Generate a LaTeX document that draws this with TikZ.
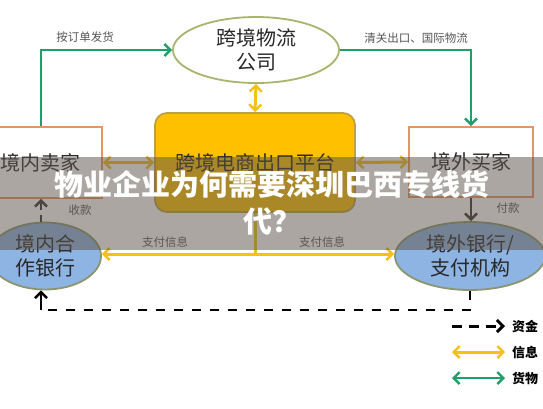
\documentclass[tikz,border=0pt]{standalone}
\usepackage{fontspec}
\setmainfont{Noto Sans CJK SC}
\usetikzlibrary{arrows.meta,shapes.geometric}
\definecolor{gcol}{RGB}{32,160,104}
\definecolor{ycol}{RGB}{246,192,24}
\definecolor{boxfill}{RGB}{255,192,0}
\definecolor{boxline}{RGB}{190,160,70}
\definecolor{obox}{RGB}{228,150,100}
\definecolor{oline}{RGB}{170,180,110}
\definecolor{bline}{RGB}{140,150,110}
\definecolor{bfill}{RGB}{141,180,226}
\definecolor{txt}{RGB}{40,40,40}
\definecolor{lbl}{RGB}{85,85,85}
\definecolor{veil}{RGB}{95,85,75}
\begin{document}
\begin{tikzpicture}[x=1pt,y=-1pt,
  maintext/.style={text=txt,font=\fontsize{20}{23.5}\selectfont,align=center,inner sep=0pt},
  sbox/.style={maintext,draw=obox,line width=1.8pt,fill=white},
  oval/.style={maintext,ellipse,line width=1.8pt},
  lab/.style={text=lbl,font=\fontsize{11.5}{13}\selectfont,inner sep=0pt},
  leg/.style={text=black,font=\fontsize{13}{15}\selectfont\bfseries,inner sep=0pt,anchor=west},
  barb/.tip={Straight Barb[length=6pt,width=12pt,line width=2.4pt]},
  garr/.style={draw=gcol,line width=2.6pt,-barb},
  gdbl/.style={draw=gcol,line width=2.6pt,barb-barb},
  yline/.style={draw=ycol,line width=3pt},
  yarr/.style={yline,-barb},
  ydbl/.style={yline,barb-barb},
  moneyline/.style={draw=black,line width=2.6pt,dash pattern=on 9pt off 9pt},
]
\useasboundingbox (0,0) rectangle (543,408);
\fill[white] (0,0) rectangle (543,408);
\clip (0,0) rectangle (543,408);

% nodes
\node[oval,draw=oline,fill=white,minimum width=166,minimum height=66] (wl) at (256,50) {跨境物流\\公司};
\node[sbox,minimum width=122,minimum height=71] (seller) at (41,162.5) {境内卖家};
\node[sbox,minimum width=124,minimum height=70] (buyer) at (471,162) {境外买家};
\node[maintext,draw=boxline,fill=boxfill,line width=1.8pt,rounded corners=12pt,minimum width=200,minimum height=99] (plat) at (255,162.5) {跨境电商出口平台};
\node[oval,draw=bline,fill=bfill,minimum width=112,minimum height=67] (lbank) at (45,256) {境内合\\作银行};
\node[oval,draw=bline,fill=bfill,minimum width=150,minimum height=68] (rbank) at (470,256) {境外银行/\\支付机构};

% goods flow
\draw[garr] (seller.north) |- (wl.west);
\draw[garr] (wl.east) -| (buyer.north);
\node[lab] (l1) at (85,37) {按订单发货};
\node[lab] (l2) at (416,38) {清关出口、国际物流};

% info flow
\draw[ydbl] (wl.south) -- (plat.north);
\draw[ydbl] (seller.east) -- (plat.west);
\draw[ydbl] (plat.east) -- (buyer.west);
\coordinate (pj) at (255,254);
\draw[yline] (plat.south) -- (pj);
\draw[yarr] (pj) -- (lbank.east |- pj);
\draw[yarr] (pj) -- (rbank.west |- pj);
\node[lab] (l3) at (165,242) {支付信息};
\node[lab] (l4) at (322,242) {支付信息};

% money flow
\draw[draw=black!80,line width=2.2pt,dash pattern=on 7pt off 5pt,-barb] (seller.south |- lbank.north) -- (seller.south);
\node[lab] (l5) at (80,210) {收款};
\draw[draw=black!80,line width=2.2pt,-barb] (buyer.south) -- (buyer.south |- rbank.north);
\node[lab] (l6) at (508,208) {付款};
\coordinate (br) at (470,310);
\coordinate (bl) at (41,310);
\draw[moneyline] (rbank.south) -- (br) -- (bl);
\draw[draw=black,line width=2.6pt,-barb] (bl) -- (bl |- lbank.south);

% legend
\coordinate (a1) at (452,326); \coordinate (b1) at (505,326);
\draw[draw=black,line width=3pt,dash pattern=on 10pt off 7pt,-{Straight Barb[length=6pt,width=12pt,line width=3pt]}] (a1) -- (b1);
\node[leg] (t1) at (512,326) {资金};
\coordinate (a2) at (452,352); \coordinate (b2) at (505,352);
\draw[ydbl] (a2) -- (b2);
\node[leg] (t2) at (512,352) {信息};
\coordinate (a3) at (452,378); \coordinate (b3) at (505,378);
\draw[gdbl] (a3) -- (b3);
\node[leg] (t3) at (512,378) {货物};

% title veil
\fill[veil,fill opacity=0.52] (0,157) rectangle (543,250);
\node[text=white,font=\fontsize{29}{37}\selectfont\bfseries,align=center,inner sep=0pt] (title) at (272,203) {物业企业为何需要深圳巴西专线货\\代？};
\end{tikzpicture}
\end{document}
